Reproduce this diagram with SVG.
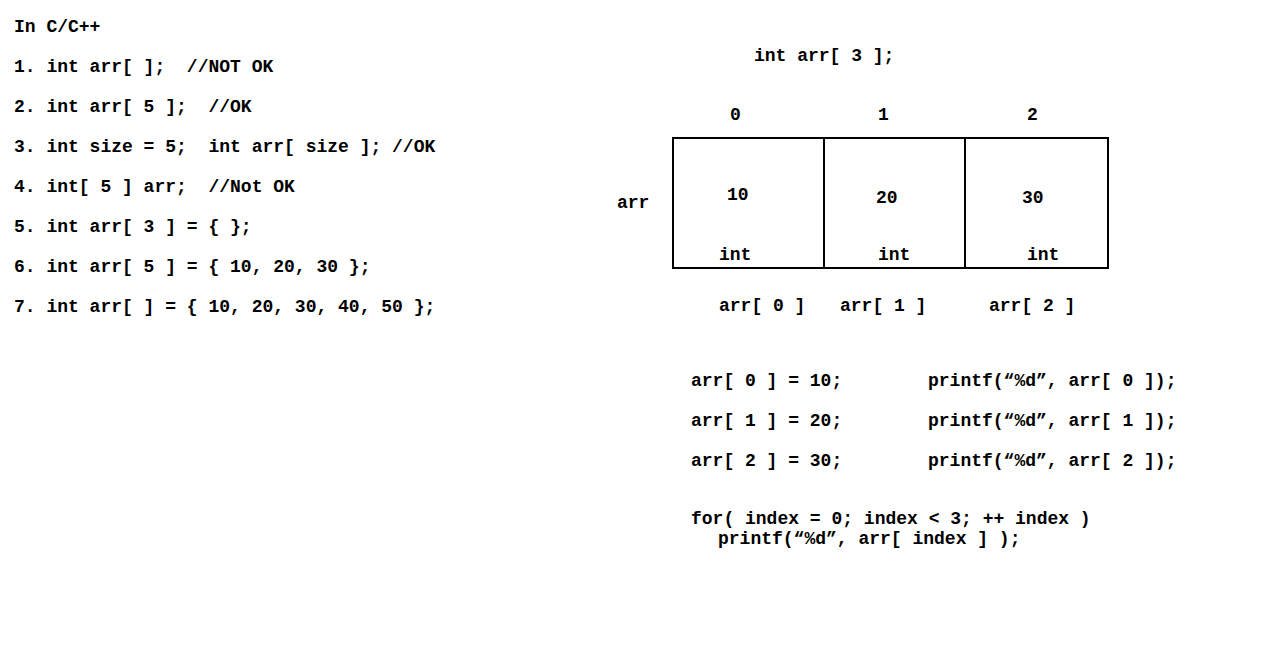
<svg xmlns="http://www.w3.org/2000/svg" width="1266" height="671" viewBox="0 0 1266 671">
<style>
text{font-family:"Liberation Mono","Courier New",monospace;font-weight:bold;font-size:18px;fill:#000;white-space:pre}
.cell{fill:#fff;stroke:#000;stroke-width:2}
</style>
<rect width="1266" height="671" fill="#fff"/>
<g id="notes">
<text x="14" y="32">In C/C++</text>
<text x="14" y="72">1. int arr[ ];  //NOT OK</text>
<text x="14" y="112">2. int arr[ 5 ];  //OK</text>
<text x="14" y="152">3. int size = 5;  int arr[ size ]; //OK</text>
<text x="14" y="192">4. int[ 5 ] arr;  //Not OK</text>
<text x="14" y="232">5. int arr[ 3 ] = { };</text>
<text x="14" y="272">6. int arr[ 5 ] = { 10, 20, 30 };</text>
<text x="14" y="312">7. int arr[ ] = { 10, 20, 30, 40, 50 };</text>
</g>
<g id="decl"><text x="754" y="61">int arr[ 3 ];</text></g>
<g id="indices">
<text x="730" y="120">0</text>
<text x="878" y="120">1</text>
<text x="1027" y="120">2</text>
</g>
<g id="label-arr"><text x="617" y="208">arr</text></g>
<g id="cell0">
<rect class="cell" x="673" y="138" width="151" height="130"/>
<text x="727" y="200">10</text>
<text x="719" y="260">int</text>
</g>
<g id="cell1">
<rect class="cell" x="824" y="138" width="141" height="130"/>
<text x="876" y="203">20</text>
<text x="878" y="260">int</text>
</g>
<g id="cell2">
<rect class="cell" x="965" y="138" width="143" height="130"/>
<text x="1022" y="203">30</text>
<text x="1027" y="260">int</text>
</g>
<g id="elements">
<text x="719" y="311">arr[ 0 ]</text>
<text x="840" y="311">arr[ 1 ]</text>
<text x="989" y="311">arr[ 2 ]</text>
</g>
<g id="code">
<text x="691" y="386">arr[ 0 ] = 10;</text>
<text x="928" y="386">printf(“%d”, arr[ 0 ]);</text>
<text x="691" y="426">arr[ 1 ] = 20;</text>
<text x="928" y="426">printf(“%d”, arr[ 1 ]);</text>
<text x="691" y="466">arr[ 2 ] = 30;</text>
<text x="928" y="466">printf(“%d”, arr[ 2 ]);</text>
<text x="691" y="524">for( index = 0; index &lt; 3; ++ index )</text>
<text x="718" y="544">printf(“%d”, arr[ index ] );</text>
</g>
<g id="connectors"/>
</svg>
